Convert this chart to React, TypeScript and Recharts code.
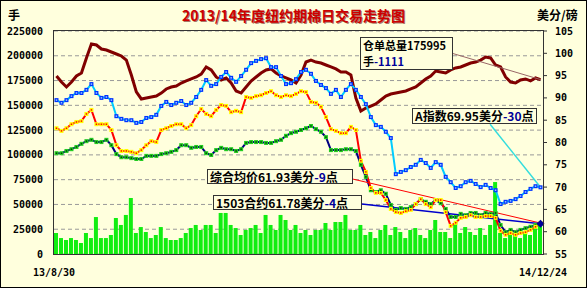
import React from 'react';
import { ComposedChart, Bar, Line, XAxis, YAxis, CartesianGrid, ReferenceLine, ReferenceDot } from 'recharts';

// 仓单总量 (手) — left axis
const stock = [179600,173500,168500,173500,179600,182600,197800,211900,210900,206800,205800,203800,201800,199800,195700,180600,163500,156400,157400,158400,159400,162400,166500,168500,169500,172500,174600,176600,178600,181600,188700,185700,178600,175600,177600,172500,164500,162400,168500,174600,178600,182600,185700,186700,182600,179600,177600,175600,172500,180600,193700,195700,193700,192700,190700,188700,186700,183600,183600,180600,157400,144300,147300,149300,151400,155400,159400,161400,162400,163500,164500,166500,168500,172500,176600,179600,184600,183600,182600,185700,187700,188700,190700,192700,193700,195700,198800,197800,190700,188700,178600,173500,172500,175600,176600,174600,177600,175995];
// A指数 (美分/磅) — right axis
const aIndex = [89.5,88.9,89.5,90.4,91.1,91.1,91.8,93.1,91.1,90.0,90.2,89.5,85.9,85.3,85.0,85.0,84.4,84.6,85.5,85.7,86.2,88.2,89.1,88.4,88.9,89.3,88.4,88.9,90.2,91.8,94.0,92.7,93.1,94.7,95.8,94.5,93.6,94.9,96.3,97.8,98.3,98.7,98.9,96.9,96.9,94.9,93.1,93.3,94.2,95.8,96.3,95.4,93.8,92.9,92.2,90.9,91.8,90.2,91.8,93.1,91.8,90.2,88.6,85.7,83.9,83.5,82.4,81.0,72.9,73.4,73.8,74.5,75.0,76.1,75.4,74.3,75.6,75.0,72.3,71.1,69.8,70.2,71.1,71.4,70.7,70.0,70.5,69.8,69.3,66.2,66.7,66.9,67.3,68.0,68.9,69.6,70.2,69.95];
// 综合均价 (美分/磅) — right axis
const avgPrice = [83.2,82.6,83.2,84.1,84.6,84.8,86.4,87.3,84.1,84.1,84.1,82.8,79.4,78.1,78.1,77.9,77.6,78.3,79.4,80.3,80.1,82.8,83.2,83.7,84.1,84.1,83.2,83.9,85.9,87.5,86.4,85.9,87.3,88.4,88.2,86.8,87.1,86.8,90.2,90.0,90.4,90.6,91.1,91.5,90.6,90.2,90.6,90.4,90.9,91.5,91.3,89.1,88.9,88.0,85.7,83.0,82.6,82.1,82.1,83.5,82.8,75.9,73.4,69.8,68.7,68.7,67.1,65.1,64.4,64.2,64.6,64.9,66.2,67.3,66.2,65.5,67.1,67.1,64.4,61.3,62.0,63.1,63.3,63.7,63.3,63.3,63.5,63.5,63.1,60.2,59.3,59.7,59.3,59.7,59.9,60.4,61.1,61.93];
// 1503合约 (美分/磅) — right axis
const contract = [77.6,77.6,78.1,78.5,79.0,79.7,80.3,80.6,80.1,80.1,80.6,79.4,77.4,76.7,76.7,76.5,76.3,76.3,77.0,77.0,77.0,77.4,77.6,77.9,78.3,79.4,79.4,78.8,79.0,79.0,77.6,77.2,78.3,78.8,78.5,78.5,78.1,78.5,79.9,80.1,80.1,80.1,79.9,79.9,80.3,80.6,81.5,82.1,82.4,82.8,83.2,83.7,83.0,82.4,81.2,78.3,78.3,78.3,78.5,78.5,78.1,75.0,72.3,69.3,68.9,69.3,68.5,66.0,64.9,65.3,65.1,65.5,66.2,67.3,66.7,66.2,67.1,66.4,65.1,63.3,63.3,64.0,63.7,64.2,64.2,63.7,64.2,64.0,64.2,61.5,59.9,60.4,59.9,60.4,60.8,61.1,61.5,61.78];
// 成交量 (手) — left axis
const volume = [21200,16100,14100,16100,14100,11100,21200,16100,37300,16100,16100,19200,36300,29300,39400,56500,21200,27200,22200,16100,19200,27200,16100,14100,14100,16100,21200,26200,29300,24200,29300,29300,21200,41400,41400,29300,26200,19200,24200,26200,29300,21200,39400,29300,24200,39400,34300,24200,29300,21200,24200,19200,24200,24200,31300,24200,32300,32300,39400,24200,24200,29300,19200,22200,16100,24200,29300,19200,27200,22200,16100,24200,26200,19200,16100,24200,34300,22200,22200,16100,31300,21200,27200,22200,19200,26200,19200,29300,72600,21200,16100,24200,19200,16100,22200,19200,26200,29300];

const leftTicks = [0, 25000, 50000, 75000, 100000, 125000, 150000, 175000, 200000, 225000];
const rightTicks = [55, 60, 65, 70, 75, 80, 85, 90, 95, 100, 105];
const xLabels = ['13/8/30', '14/12/24'];

const data = stock.map((s, i) => ({
  i,
  stock: s,
  aIndex: aIndex[i],
  avgPrice: avgPrice[i],
  contract: contract[i],
  volume: volume[i],
}));
const last = data.length - 1;

const BG = '#FFFFDD';
const cjk = '"Noto Sans CJK SC", sans-serif';
const mono = '"DejaVu Sans Mono", monospace';

const sq = (fill: string, center: string, size = 4, c = 1.5) => (p: any) => {
  if (p.cx == null || p.cy == null) return <g key={p.index} />;
  return (
    <g key={p.index}>
      <rect x={p.cx - size / 2} y={p.cy - size / 2} width={size} height={size} fill={fill} />
      <rect x={p.cx - c / 2} y={p.cy - c / 2} width={c} height={c} fill={center} />
    </g>
  );
};

const XTick = (props: any) => {
  const { x, y, index } = props;
  return (
    <text x={x} y={y} dy={20} textAnchor="middle" fontFamily={mono} fontWeight="bold" fontSize={10} fill="#000">
      {xLabels[index]}
    </text>
  );
};

const Diamond = (props: any) => {
  const { cx, cy } = props;
  return <polygon points={`${cx},${cy - 4} ${cx + 4},${cy} ${cx},${cy + 4} ${cx - 4},${cy}`} fill="#000099" />;
};

const boxStyle: React.CSSProperties = {
  position: 'absolute',
  background: BG,
  border: '1px solid #333',
  boxSizing: 'border-box',
  fontFamily: cjk,
  fontWeight: 'bold',
  fontSize: 12,
  color: '#000',
  whiteSpace: 'nowrap',
  paddingLeft: 2,
  lineHeight: '13px',
};
const navy = { color: '#000099' };

export default function App() {
  return (
    <div style={{ position: 'fixed', left: 0, top: 0, width: 587, height: 288, background: BG, boxShadow: 'inset 0 0 0 1px #000', overflow: 'hidden' }}>
      <ComposedChart width={587} height={288} data={data} margin={{ top: 31, right: 0, bottom: 4, left: 0 }}>
        <CartesianGrid yAxisId="left" vertical={false} stroke="#999" strokeDasharray="4 3" />
        <XAxis
          type="number"
          dataKey="i"
          domain={[-0.5, last + 0.5]}
          ticks={[-0.5, last + 0.5]}
          tick={<XTick />}
          tickLine={false}
          axisLine={false}
          tickSize={0}
          height={30}
          interval={0}
        />
        <YAxis
          yAxisId="left"
          domain={[0, 225000]}
          ticks={leftTicks}
          width={54}
          axisLine={false}
          tickLine={false}
          tickSize={0}
          tickMargin={11}
          tick={{ fontFamily: mono, fontWeight: 'bold', fontSize: 10, fill: '#000' }}
          interval={0}
        />
        <YAxis
          yAxisId="right"
          orientation="right"
          domain={[55, 105]}
          ticks={rightTicks}
          width={44}
          axisLine={false}
          tickLine={{ stroke: '#333' }}
          tickSize={4}
          tickMargin={8}
          tick={{ fontFamily: mono, fontWeight: 'bold', fontSize: 10, fill: '#000' }}
          interval={0}
        />
        <Bar yAxisId="left" dataKey="volume" fill="#11EE11" barSize={4} isAnimationActive={false} />
        <Line yAxisId="left" dataKey="stock" stroke="#800000" strokeWidth={3} dot={false} isAnimationActive={false} />
        <Line yAxisId="right" dataKey="aIndex" stroke="#00CCFF" strokeWidth={2} dot={sq('#0033FF', '#99CCFF', 4, 1.5)} isAnimationActive={false} />
        <Line yAxisId="right" dataKey="contract" stroke="#000080" strokeWidth={2} dot={sq('#22CC22', '#004400')} isAnimationActive={false} />
        <Line yAxisId="right" dataKey="avgPrice" stroke="#FF0000" strokeWidth={2} dot={sq('#FFFF00', '#FF0000')} isAnimationActive={false} />
        <ReferenceLine yAxisId="left" stroke="#996666" strokeWidth={1} segment={[{ x: 79.1, y: 202800 }, { x: last, y: stock[last] }]} />
        <ReferenceLine yAxisId="right" stroke="#33DDDD" strokeWidth={1.5} segment={[{ x: 86.9, y: 84.1 }, { x: last, y: aIndex[last] }]} />
        <ReferenceLine yAxisId="right" stroke="#FF0000" strokeWidth={1} segment={[{ x: 59.4, y: 71.8 }, { x: last, y: avgPrice[last] }]} />
        <ReferenceLine yAxisId="right" stroke="#0000CC" strokeWidth={1.5} segment={[{ x: 61.2, y: 66.2 }, { x: last, y: contract[last] }]} />
        <ReferenceDot yAxisId="right" x={last} y={contract[last]} shape={<Diamond />} />
      </ComposedChart>

      <div style={{ position: 'absolute', left: 53, top: 30, width: 491, height: 225, border: '1px solid #333', boxSizing: 'border-box', pointerEvents: 'none' }} />

      <div style={{ position: 'absolute', left: 182, top: 6, fontFamily: cjk, fontWeight: 'bold', fontSize: 14, lineHeight: '18px', color: '#CC0000', textShadow: '1px 1px 0 rgba(90,0,0,0.55)', whiteSpace: 'nowrap' }}>
        2013/14年度纽约期棉日交易走势图
      </div>
      <div style={{ position: 'absolute', left: 8, top: 7, fontFamily: cjk, fontWeight: 'bold', fontSize: 12, lineHeight: '16px', color: '#000' }}>手</div>
      <div style={{ position: 'absolute', left: 537, top: 7, fontFamily: cjk, fontWeight: 'bold', fontSize: 12, lineHeight: '16px', color: '#000', whiteSpace: 'nowrap' }}>美分/磅</div>

      <div style={{ ...boxStyle, left: 360, top: 37, width: 93, height: 33, fontSize: 11 }}>
        <div style={{ position: 'absolute', left: 2, top: -1, lineHeight: '16px' }}>仓单总量175995</div>
        <div style={{ position: 'absolute', left: 2, top: 15, lineHeight: '16px' }}>手<span style={navy}>-1111</span></div>
      </div>
      <div style={{ ...boxStyle, left: 412, top: 108, width: 125, height: 16 }}>
        A指数69.95美分<span style={navy}>-30</span>点
      </div>
      <div style={{ ...boxStyle, left: 207, top: 169, width: 146, height: 15 }}>
        综合均价61.93美分<span style={navy}>-9</span>点
      </div>
      <div style={{ ...boxStyle, left: 213, top: 195, width: 149, height: 15 }}>
        1503合约61.78美分<span style={navy}>-4</span>点
      </div>
    </div>
  );
}
